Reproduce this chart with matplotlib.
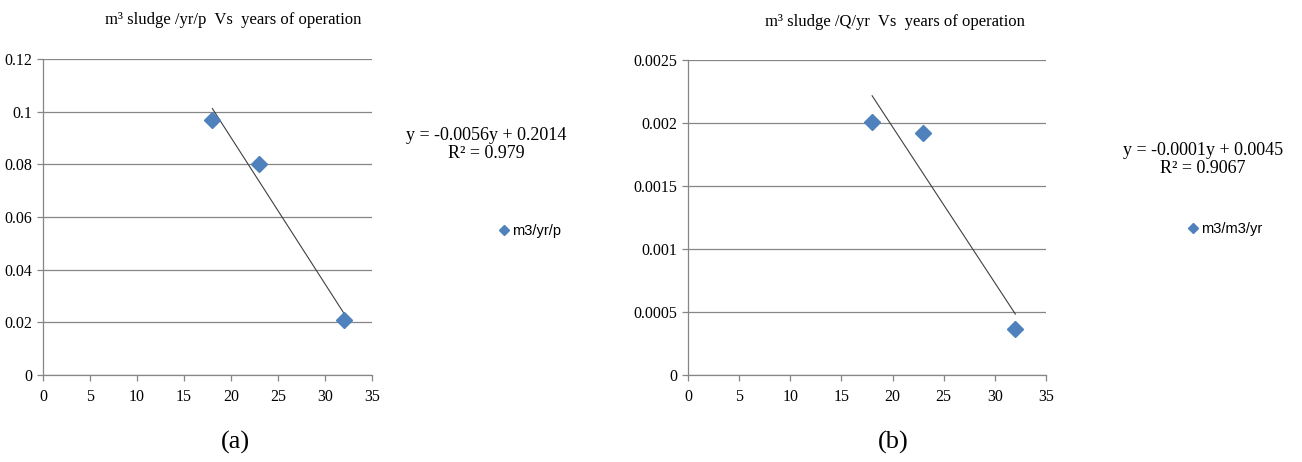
import numpy as np
import matplotlib.pyplot as plt

# years of operation
years = [18, 23, 32]
# m3 sludge per year per person
sludge_per_person = [0.097, 0.080, 0.021]
# m3 sludge per Q per year
sludge_per_q = [0.00201, 0.00192, 0.00037]

titles = ['m³ sludge /yr/p  Vs  years of operation',
          'm³ sludge /Q/yr  Vs  years of operation']
legend_labels = ['m3/yr/p', 'm3/m3/yr']
eq_texts = ['y = -0.0056y + 0.2014\nR² = 0.979',
            'y = -0.0001y + 0.0045\nR² = 0.9067']
panel_labels = ['(a)', '(b)']
y_ticks = [[0, 0.02, 0.04, 0.06, 0.08, 0.1, 0.12],
           [0, 0.0005, 0.001, 0.0015, 0.002, 0.0025]]
y_ticklabels = [['0', '0.02', '0.04', '0.06', '0.08', '0.1', '0.12'],
                ['0', '0.0005', '0.001', '0.0015', '0.002', '0.0025']]
x_ticks = [0, 5, 10, 15, 20, 25, 30, 35]

plt.rcParams['font.family'] = ['Liberation Serif', 'DejaVu Serif']

fig = plt.figure(figsize=(13.02, 4.62), dpi=100)
axes = [fig.add_axes([0.033, 0.188, 0.253, 0.684]),
        fig.add_axes([0.5284, 0.188, 0.275, 0.682])]

blue = '#4F81BD'
grid_c = '#868686'
series = [sludge_per_person, sludge_per_q]

# text positions in figure pixels
eq_pos = [(486, 127), (1203, 142)]
leg_pos = [(492, 231), (1181, 229)]
title_pos = [(233, 20), (895, 22)]
panel_pos = [(235, 442), (893, 442)]

W, H = 1302, 462
for i, ax in enumerate(axes):
    y = series[i]
    # linear trendline over the data range
    slope, icpt = np.polyfit(years, y, 1)
    xs = np.array([min(years), max(years)])
    ax.plot(xs, slope * xs + icpt, color='#404040', lw=0.8, zorder=2)
    ax.plot(years, y, 'D', color=blue, markersize=8, zorder=3,
            label=legend_labels[i])

    ax.set_xlim(0, 35)
    ax.set_ylim(0, y_ticks[i][-1])
    ax.set_xticks(x_ticks)
    ax.set_yticks(y_ticks[i])
    ax.set_yticklabels(y_ticklabels[i])
    ax.grid(axis='y', color=grid_c, lw=0.9)
    ax.set_axisbelow(True)
    for s in ['top', 'right']:
        ax.spines[s].set_visible(False)
    for s in ['left', 'bottom']:
        ax.spines[s].set_color(grid_c)
        ax.spines[s].set_linewidth(0.9)
    ax.tick_params(colors=grid_c, labelcolor='black', labelsize=11.5,
                   length=4, width=0.9)
    ax.tick_params(axis='x', pad=6)

    fig.text(title_pos[i][0] / W, 1 - title_pos[i][1] / H, titles[i],
             ha='center', va='center', fontsize=12)
    fig.text(eq_pos[i][0] / W, 1 - eq_pos[i][1] / H, eq_texts[i],
             ha='center', va='top', fontsize=13, linespacing=1.05)
    fig.text(panel_pos[i][0] / W, 1 - panel_pos[i][1] / H, panel_labels[i],
             ha='center', va='center', fontsize=19)
    fig.legend(handles=[ax.lines[1]], loc='center left',
               bbox_to_anchor=(leg_pos[i][0] / W, 1 - leg_pos[i][1] / H),
               frameon=False, handlelength=0.6, handletextpad=0.3,
               markerscale=0.7, borderpad=0,
               prop={'family': 'Liberation Sans', 'size': 10.5})

fig.savefig('out.png', dpi=100)
